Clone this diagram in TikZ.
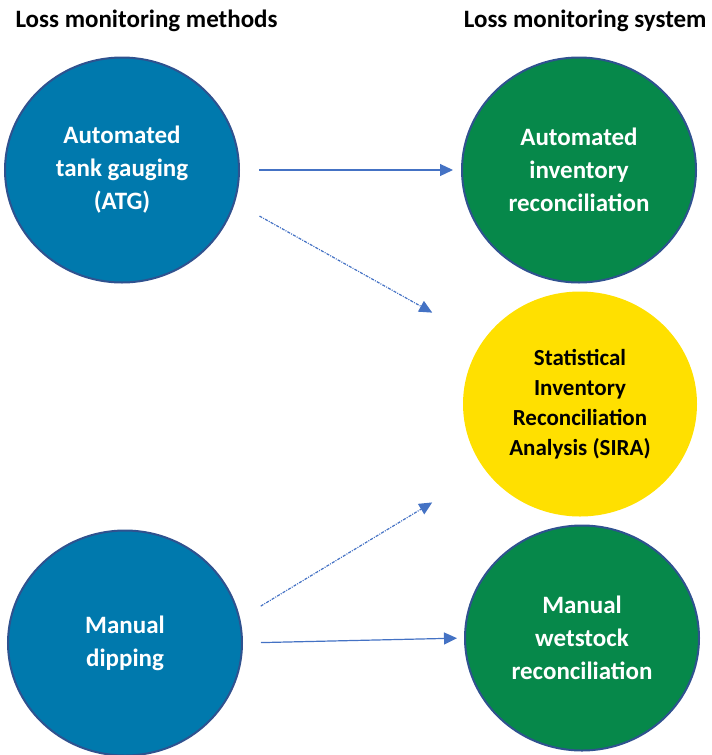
\documentclass[tikz,border=0pt]{standalone}
\usepackage{fontspec}
\setmainfont{Carlito}
\usepackage{tikz}
\usetikzlibrary{shapes.geometric, arrows.meta}

\definecolor{methodblue}{RGB}{0,121,173}
\definecolor{systemgreen}{RGB}{6,136,74}
\definecolor{sirayellow}{RGB}{255,224,0}
\definecolor{rimblue}{RGB}{47,82,143}
\definecolor{arrowblue}{RGB}{68,114,196}

\begin{document}
\begin{tikzpicture}[x=1pt, y=1pt,
					>={Triangle[length=13pt,width=12pt]},
					every node/.style={font=\bfseries},
					heading/.style={font=\fontsize{25}{30}\selectfont\bfseries},
					blob/.style={ellipse, minimum width=234pt, minimum height=225pt,
						inner sep=0pt, align=center, text=white,
						font=\fontsize{25}{33}\selectfont\bfseries},
					method/.style={blob, draw=rimblue, line width=2pt, fill=methodblue},
					system/.style={blob, draw=rimblue, line width=2pt, fill=systemgreen},
					flow/.style={->, draw=arrowblue, line width=1.2pt},
					maybe/.style={flow, dash pattern=on 3pt off 1.2pt on 1pt off 1.2pt}]

	\useasboundingbox (0,0) rectangle (712,-755);

	\node[heading, anchor=base west] (methods) at (12,-27) {Loss monitoring methods};
	\node[heading, anchor=base east] (systems) at (710,-27) {Loss monitoring system};

	\node[method] (atg) at (122,-170) {Automated\\tank gauging\\(ATG)};
	\node[method] (dip) at (125,-643) {Manual\\dipping};
	\node[system] (air) at (579,-170) {Automated\\inventory\\reconciliation};
	\node[blob, fill=sirayellow, text=black, font=\fontsize{23}{30}\selectfont\bfseries] (sira) at (580,-404)
		{Statistical\\Inventory\\Reconciliation\\Analysis (SIRA)};
	\node[system] (mwr) at (582,-638) {Manual\\wetstock\\reconciliation};

	\draw[flow, shorten <=19pt, shorten >=8pt] (atg.east) -- (air.west);
	\draw[maybe, shorten <=28pt, shorten >=58pt] (atg.-16) -- (sira.147);
	\draw[maybe, shorten <=24pt, shorten >=62pt] (dip.12) -- (sira.215);
	\draw[flow, shorten <=18pt, shorten >=7pt] (dip.east) -- (mwr.west);
\end{tikzpicture}
\end{document}
